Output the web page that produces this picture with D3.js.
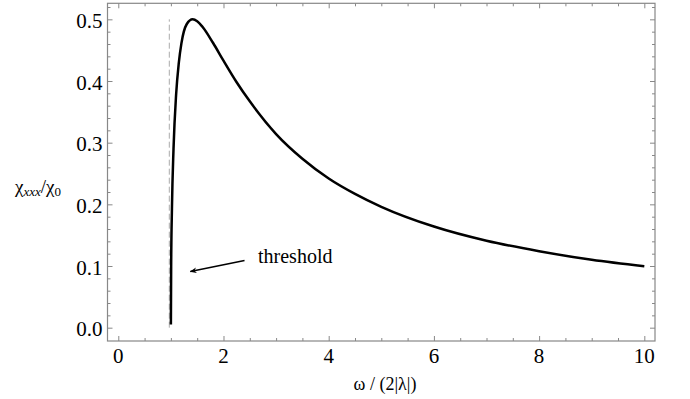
<!DOCTYPE html>
<html>
<head>
<meta charset="utf-8">
<script src="https://cdn.jsdelivr.net/npm/d3@7"></script>
<style>
  body { margin: 0; background: #fff; }
</style>
</head>
<body>
<div id="chart"></div>
<script>
// values
const omega = [1.0, 1.005, 1.02, 1.05, 1.1, 1.15, 1.2, 1.3, 1.414, 1.5, 1.6, 1.8, 2.0,
  2.25, 2.5, 3, 3.5, 4, 4.5, 5, 6, 7, 8, 9, 10];
const chi = [0.005, 0.099, 0.193, 0.290, 0.379, 0.429, 0.461, 0.492, 0.500, 0.497, 0.488,
  0.462, 0.433, 0.398, 0.367, 0.314, 0.274, 0.242, 0.217, 0.196, 0.164, 0.141, 0.124,
  0.110, 0.0995];
const xTicks = [0, 2, 4, 6, 8, 10];
const yTicks = [0.0, 0.1, 0.2, 0.3, 0.4, 0.5];
const thresholdX = 0.97;
const note = {label: 'threshold', from: [2.4, 0.109], to: [1.37, 0.091]};

const W = 690, H = 399;
const frame = {left: 107.5, right: 655, top: 3.3, bottom: 341};
const serif = 'Liberation Serif';

const x = d3.scaleLinear().domain([-0.205, 10.203]).range([frame.left, frame.right]);
const y = d3.scaleLinear().domain([-0.0216, 0.526]).range([frame.bottom, frame.top]);

const svg = d3.select('#chart').append('svg')
  .attr('width', W)
  .attr('height', H);

// minor ticks
const xMinor = d3.range(0, 10.01, 0.5).filter(v => !xTicks.includes(v));
const yMinor = d3.range(0, 0.521, 0.02).map(v => +v.toFixed(2))
  .filter(v => !yTicks.some(t => Math.abs(t - v) < 1e-6));

const frameColor = '#888';

function styleAxis(g) {
  g.select('.domain').remove();
  g.selectAll('line').attr('stroke', frameColor);
}

// tick marks on all four sides, pointing inward
const sides = [
  [d3.axisBottom(x), `translate(0,${frame.bottom})`, xTicks, xMinor],
  [d3.axisTop(x), `translate(0,${frame.top})`, xTicks, xMinor],
  [d3.axisLeft(y), `translate(${frame.left},0)`, yTicks, yMinor],
  [d3.axisRight(y), `translate(${frame.right},0)`, yTicks, yMinor]
];
sides.forEach(([ax, tr, major, minor]) => {
  svg.append('g').attr('transform', tr)
    .call(ax.tickValues(major).tickFormat('').tickSizeInner(-5).tickSizeOuter(0))
    .call(styleAxis);
  svg.append('g').attr('transform', tr)
    .call(ax.tickValues(minor).tickFormat('').tickSizeInner(-3).tickSizeOuter(0))
    .call(styleAxis);
});

// tick labels
svg.append('g').selectAll('text')
  .data(xTicks)
  .join('text')
  .attr('x', d => x(d))
  .attr('y', 363)
  .attr('text-anchor', 'middle')
  .style('font-family', serif)
  .style('font-size', '21px')
  .text(d3.format('d'));

svg.append('g').selectAll('text')
  .data(yTicks)
  .join('text')
  .attr('x', frame.left - 5)
  .attr('y', d => y(d) + 8.5)
  .attr('text-anchor', 'end')
  .style('font-family', serif)
  .style('font-size', '21px')
  .text(d3.format('.1f'));

// frame
svg.append('rect')
  .attr('x', frame.left)
  .attr('y', frame.top)
  .attr('width', frame.right - frame.left)
  .attr('height', frame.bottom - frame.top)
  .attr('fill', 'none')
  .attr('stroke', frameColor)
  .attr('stroke-width', 1.2);

// threshold marker
svg.append('line')
  .attr('x1', x(thresholdX)).attr('x2', x(thresholdX))
  .attr('y1', y(0)).attr('y2', y(0.5))
  .attr('stroke', '#aaa')
  .attr('stroke-width', 1)
  .attr('stroke-dasharray', '6,3');

// curve
const pts = omega.map((w, i) => [w, chi[i]]);
svg.append('path')
  .datum(pts)
  .attr('fill', 'none')
  .attr('stroke', '#000')
  .attr('stroke-width', 2.5)
  .attr('d', d3.line().x(d => x(d[0])).y(d => y(d[1])).curve(d3.curveMonotoneX));

// annotation
svg.append('defs').append('marker')
  .attr('id', 'head')
  .attr('viewBox', '0 0 10 10')
  .attr('refX', 9).attr('refY', 5)
  .attr('markerWidth', 7).attr('markerHeight', 7)
  .attr('markerUnits', 'userSpaceOnUse')
  .attr('orient', 'auto')
  .append('path')
  .attr('d', 'M0,1 L10,5 L0,9 L3,5 Z')
  .attr('fill', '#000');

svg.append('line')
  .attr('x1', x(note.from[0])).attr('y1', y(note.from[1]))
  .attr('x2', x(note.to[0])).attr('y2', y(note.to[1]))
  .attr('stroke', '#000')
  .attr('stroke-width', 1.6)
  .attr('marker-end', 'url(#head)');

svg.append('text')
  .attr('x', 258)
  .attr('y', 263)
  .style('font-family', serif)
  .style('font-size', '20px')
  .text(note.label);

// axis labels
svg.append('text')
  .attr('x', 385)
  .attr('y', 390)
  .attr('text-anchor', 'middle')
  .style('font-family', serif)
  .style('font-size', '18px')
  .text('ω / (2|λ|)');

const yl = svg.append('text')
  .attr('x', 15)
  .attr('y', 193)
  .style('font-family', serif)
  .style('font-size', '19px');
yl.append('tspan').text('χ');
yl.append('tspan').attr('dy', 3).style('font-size', '13px').style('font-style', 'italic').text('xxx');
yl.append('tspan').attr('dy', -3).text('/χ');
yl.append('tspan').attr('dy', 3).style('font-size', '13px').text('0');
</script>
</body>
</html>
